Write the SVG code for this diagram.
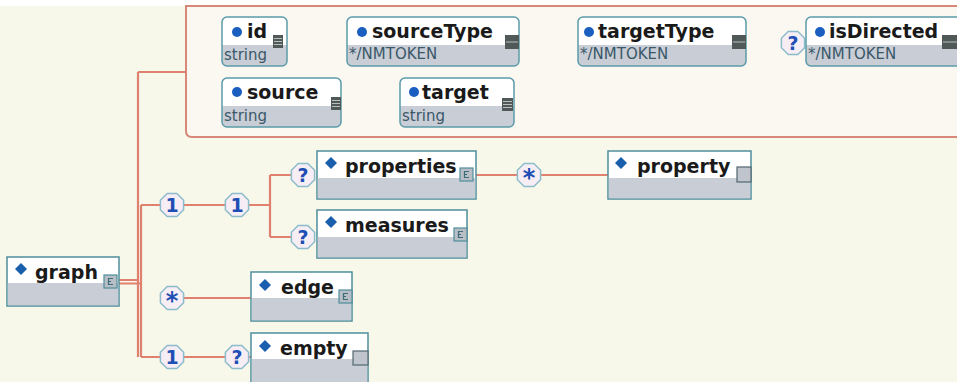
<svg xmlns="http://www.w3.org/2000/svg" width="957" height="382" viewBox="0 0 957 382">
<defs>
<style>
.el{fill:#ffffff;stroke:#4f8e9c;stroke-width:1.5}
.band{fill:#c9cdd6}
.att{fill:none;stroke:#5b9aa8;stroke-width:1.5}
.dia{fill:#1a5fae}
.dot{fill:#1a5fc0}
.nm{font-family:"DejaVu Sans",sans-serif;font-weight:bold;font-size:19px;fill:#1a1a1a}
.ty{font-family:"DejaVu Sans",sans-serif;font-size:15px;fill:#3a5868}
.cn{fill:none;stroke:#e0806e;stroke-width:2.2}
.oct{fill:#f6eef4;stroke:#8cbccc;stroke-width:1.5}
.ol{font-family:"DejaVu Sans",sans-serif;font-weight:bold;font-size:19px;fill:#1f4fb4;text-anchor:middle}
.st{font-family:"DejaVu Sans",sans-serif;font-weight:bold;font-size:24px;fill:#1f4fb4;text-anchor:middle}
.ico{fill:#b8bec6;stroke:#4f8e9c;stroke-width:1.2}
.icg{fill:none;stroke:#3c6c78;stroke-width:1.2}
.emp{fill:#c0c4cc;stroke:#506870;stroke-width:1.2}
.sdk{fill:#505858}
.sln{stroke:#b8c0c0;stroke-width:1}
</style>
<polygon id="oc" points="11.6,4.8 4.8,11.6 -4.8,11.6 -11.6,4.8 -11.6,-4.8 -4.8,-11.6 4.8,-11.6 11.6,-4.8"/>
</defs>
<rect x="0" y="0" width="957" height="382" fill="#f7f7ea"/>
<rect x="0" y="0" width="957" height="6" fill="#ffffff"/>

<g id="attributes-box">
<path d="M186,6 H960 V137 H192 Q186,137 186,131 Z" fill="#faf8f0" stroke="#d88878" stroke-width="2"/>
</g>

<g id="connectors">
<path class="cn" d="M138,72 H186"/>
<path class="cn" d="M138,72 V357"/>
<path class="cn" d="M119,280 H138 M119,283.5 H141 M141,205 V357"/>
<path class="cn" d="M141,205 H161 M183,205 H226 M248,205 H270 V237 M270,175 V205 M270,175 H292 M270,237 H292"/>
<path class="cn" d="M476,175 H518 M540,175 H608"/>
<path class="cn" d="M183,298 H251"/>
<path class="cn" d="M141,357 H161 M183,357 H226 M248,357 H251"/>
</g>

<g id="c-seq1"><use href="#oc" class="oct" x="172" y="205"/><text class="ol" x="172" y="212">1</text></g>
<g id="c-seq2"><use href="#oc" class="oct" x="237" y="205"/><text class="ol" x="237" y="212">1</text></g>
<g id="c-opt-properties"><use href="#oc" class="oct" x="303" y="175"/><text class="ol" x="303" y="182">?</text></g>
<g id="c-opt-measures"><use href="#oc" class="oct" x="303" y="237"/><text class="ol" x="303" y="244">?</text></g>
<g id="c-many-property"><use href="#oc" class="oct" x="529" y="175"/><text class="st" x="529" y="186">*</text></g>
<g id="c-many-edge"><use href="#oc" class="oct" x="172" y="298"/><text class="st" x="172" y="309">*</text></g>
<g id="c-seq3"><use href="#oc" class="oct" x="172" y="357"/><text class="ol" x="172" y="364">1</text></g>
<g id="c-opt-empty"><use href="#oc" class="oct" x="237" y="357"/><text class="ol" x="237" y="364">?</text></g>
<g id="c-opt-isDirected"><use href="#oc" class="oct" x="793" y="43"/><text class="ol" x="793" y="50">?</text></g>

<!-- attribute nodes -->
<g id="a-id">
<rect x="222" y="17" width="65" height="49" rx="5" class="band"/>
<path d="M222,45 V22 Q222,17 227,17 H282 Q287,17 287,22 V45 Z" fill="#fff"/>
<rect x="222" y="17" width="65" height="49" rx="5" class="att"/>
<circle class="dot" cx="237" cy="32" r="5"/>
<text class="nm" x="247" y="38">id</text>
<text class="ty" x="224" y="60">string</text>
<rect class="sdk" x="273" y="35" width="10" height="13"/>
<path class="sln" d="M274,38.5 H282 M274,41.5 H282 M274,44.5 H282"/>
</g>
<g id="a-sourceType">
<rect x="347" y="17" width="172" height="49" rx="5" class="band"/>
<path d="M347,45 V22 Q347,17 352,17 H514 Q519,17 519,22 V45 Z" fill="#fff"/>
<rect x="347" y="17" width="172" height="49" rx="5" class="att"/>
<circle class="dot" cx="362" cy="32" r="5"/>
<text class="nm" x="372" y="38">sourceType</text>
<text class="ty" x="349" y="59">*/NMTOKEN</text>
<rect class="sdk" x="505" y="35" width="14" height="14"/>
<path class="sln" d="M506,42 H518" stroke-width="2"/>
</g>
<g id="a-targetType">
<rect x="578" y="17" width="168" height="49" rx="5" class="band"/>
<path d="M578,45 V22 Q578,17 583,17 H741 Q746,17 746,22 V45 Z" fill="#fff"/>
<rect x="578" y="17" width="168" height="49" rx="5" class="att"/>
<circle class="dot" cx="589" cy="32" r="5"/>
<text class="nm" x="598" y="38">targetType</text>
<text class="ty" x="580" y="59">*/NMTOKEN</text>
<rect class="sdk" x="732" y="35" width="14" height="14"/>
<path class="sln" d="M733,42 H745" stroke-width="2"/>
</g>
<g id="a-isDirected">
<rect x="806" y="17" width="156" height="49" rx="5" class="band"/>
<path d="M806,45 V22 Q806,17 811,17 H957 V45 Z" fill="#fff"/>
<rect x="806" y="17" width="156" height="49" rx="5" class="att"/>
<circle class="dot" cx="820" cy="32" r="5"/>
<text class="nm" x="829" y="38">isDirected</text>
<text class="ty" x="808" y="59">*/NMTOKEN</text>
<rect class="sdk" x="942" y="35" width="15" height="14"/>
<path class="sln" d="M943,42 H957" stroke-width="2"/>
</g>
<g id="a-source">
<rect x="222" y="78" width="119" height="49" rx="5" class="band"/>
<path d="M222,106 V83 Q222,78 227,78 H336 Q341,78 341,83 V106 Z" fill="#fff"/>
<rect x="222" y="78" width="119" height="49" rx="5" class="att"/>
<circle class="dot" cx="237" cy="92" r="5"/>
<text class="nm" x="247" y="99">source</text>
<text class="ty" x="224" y="121">string</text>
<rect class="sdk" x="331" y="97" width="10" height="13"/>
<path class="sln" d="M332,100.5 H340 M332,103.5 H340 M332,106.5 H340"/>
</g>
<g id="a-target">
<rect x="400" y="78" width="114" height="49" rx="5" class="band"/>
<path d="M400,106 V83 Q400,78 405,78 H509 Q514,78 514,83 V106 Z" fill="#fff"/>
<rect x="400" y="78" width="114" height="49" rx="5" class="att"/>
<circle class="dot" cx="414" cy="92" r="5"/>
<text class="nm" x="422" y="99">target</text>
<text class="ty" x="402" y="121">string</text>
<rect class="sdk" x="502" y="98" width="11" height="13"/>
<path class="sln" d="M503,101.5 H512 M503,104.5 H512 M503,107.5 H512"/>
</g>

<!-- element nodes -->
<g id="e-graph">
<rect class="el" x="7" y="257" width="112" height="49"/>
<rect class="band" x="7.8" y="283" width="110.4" height="22.2"/>
<path class="dia" d="M21,263 l6,6 -6,6 -6,-6z"/>
<text class="nm" x="35" y="279">graph</text>
<rect class="ico" x="104" y="275" width="13" height="13"/>
<path class="icg" d="M113,278.5 H108.5 V284.5 H113 M108.5,281.5 H111"/>
</g>
<g id="e-properties">
<rect class="el" x="317" y="151" width="159" height="48"/>
<rect class="band" x="317.8" y="178" width="157.4" height="20.2"/>
<path class="dia" d="M331,157 l6,6 -6,6 -6,-6z"/>
<text class="nm" x="345" y="173">properties</text>
<rect class="ico" x="460" y="168" width="13" height="13"/>
<path class="icg" d="M469,171.5 H464.5 V177.5 H469 M464.5,174.5 H467"/>
</g>
<g id="e-measures">
<rect class="el" x="317" y="210" width="150" height="48"/>
<rect class="band" x="317.8" y="237" width="148.4" height="20.2"/>
<path class="dia" d="M331,216 l6,6 -6,6 -6,-6z"/>
<text class="nm" x="345" y="232">measures</text>
<rect class="ico" x="454" y="228" width="13" height="13"/>
<path class="icg" d="M463,231.5 H458.5 V237.5 H463 M458.5,234.5 H461"/>
</g>
<g id="e-property">
<rect class="el" x="608" y="151" width="143" height="48"/>
<rect class="band" x="608.8" y="178" width="141.4" height="20.2"/>
<path class="dia" d="M621,157 l6,6 -6,6 -6,-6z"/>
<text class="nm" x="637" y="173">property</text>
<rect class="emp" x="737" y="167" width="14" height="15"/>
</g>
<g id="e-edge">
<rect class="el" x="251" y="272" width="101" height="49"/>
<rect class="band" x="251.8" y="298" width="99.4" height="22.2"/>
<path class="dia" d="M265,279 l6,6 -6,6 -6,-6z"/>
<text class="nm" x="281" y="294">edge</text>
<rect class="ico" x="339" y="290" width="13" height="13"/>
<path class="icg" d="M348,293.5 H343.5 V299.5 H348 M343.5,296.5 H346"/>
</g>
<g id="e-empty">
<rect class="el" x="251" y="333" width="117" height="52"/>
<rect class="band" x="251.8" y="359" width="115.4" height="25"/>
<path class="dia" d="M265,340 l6,6 -6,6 -6,-6z"/>
<text class="nm" x="280" y="355">empty</text>
<rect class="emp" x="353" y="351" width="15" height="14"/>
</g>
</svg>
